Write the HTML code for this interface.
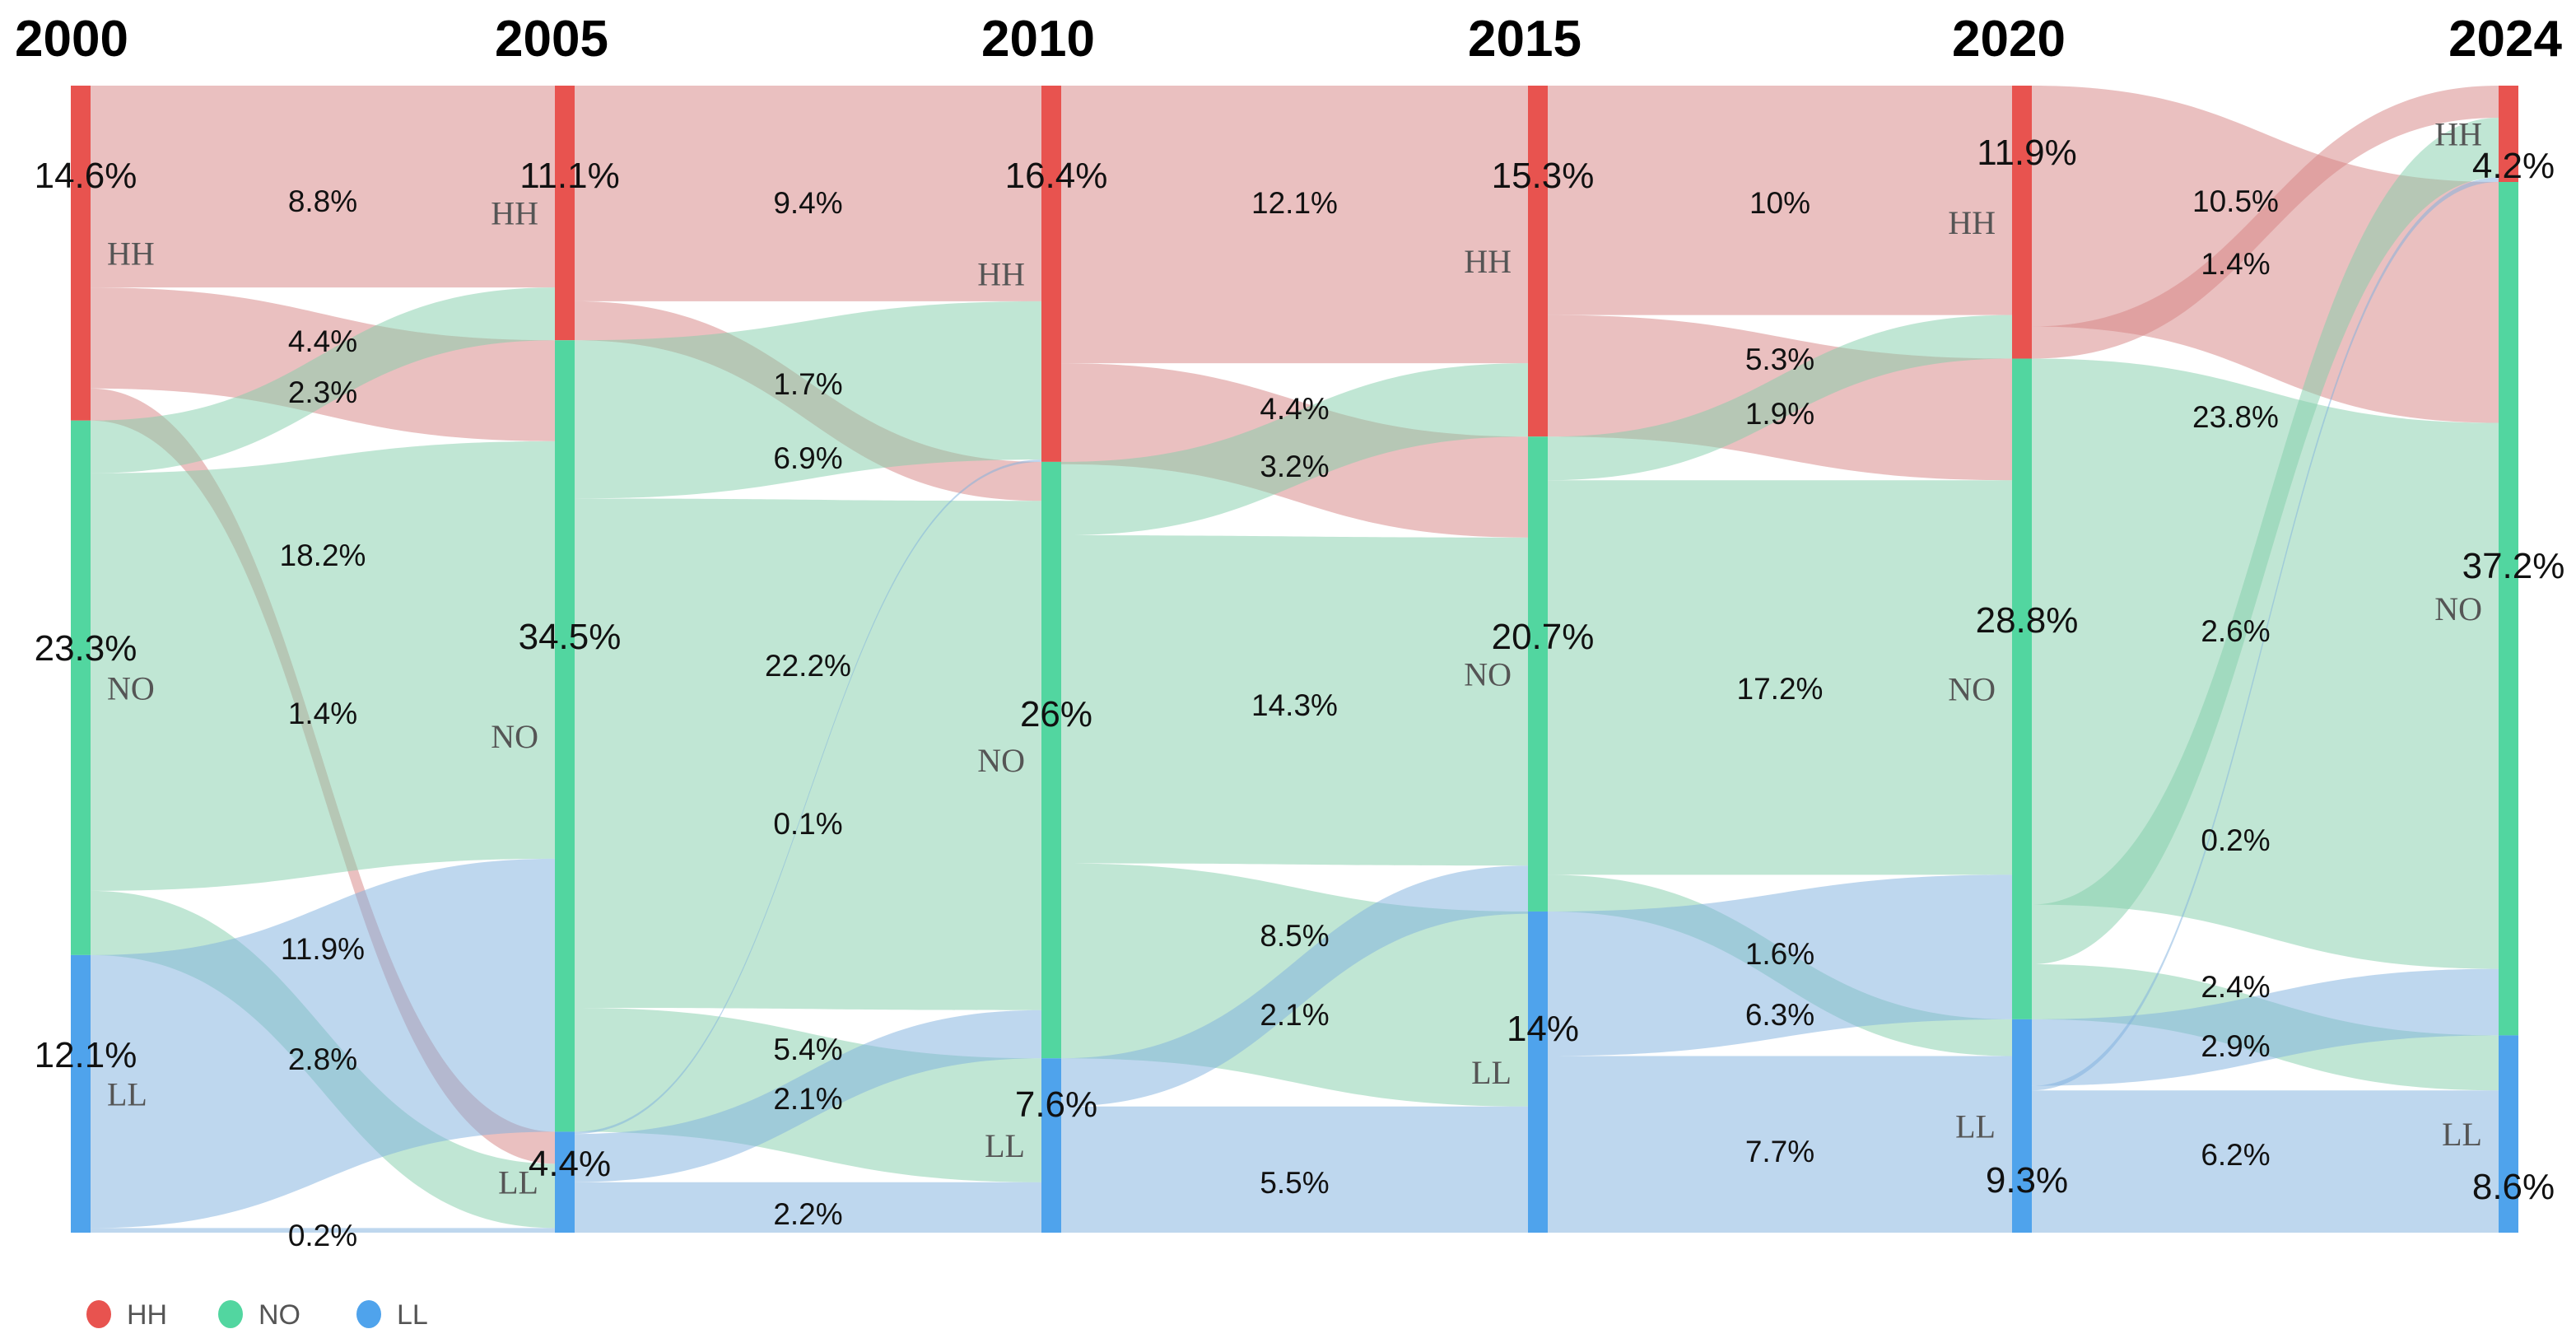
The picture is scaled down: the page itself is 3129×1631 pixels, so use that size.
<!DOCTYPE html>
<html><head><meta charset="utf-8"><style>
html,body{margin:0;padding:0;background:#fff;}
svg{display:block;font-family:"Liberation Sans",sans-serif;}
</style></head><body>
<svg id="chart" width="3129" height="1631" viewBox="0 0 3129 1631">
<g id="links"></g>
<g id="nodes"></g>
<g id="labels"></g>
<g id="legend"></g>
</svg>
<script>
const years = [2000, 2005, 2010, 2015, 2020, 2024];
const categories = ["HH", "NO", "LL"];
const hhValues = [14.6, 11.1, 16.4, 15.3, 11.9, 4.2];
const noValues = [23.3, 34.5, 26, 20.7, 28.8, 37.2];
const llValues = [12.1, 4.4, 7.6, 14, 9.3, 8.6];
// links: stage index (from year i to i+1), source category, target category, value
const linkStage  = [0,0,0,0,0,0,0,0, 1,1,1,1,1,1,1,1, 2,2,2,2,2,2,2, 3,3,3,3,3,3,3, 4,4,4,4,4,4,4,4];
const linkSource = [0,0,0,1,1,1,2,2, 0,0,1,1,1,2,2,2, 0,0,1,1,1,2,2, 0,0,1,1,1,2,2, 0,0,1,1,1,2,2,2];
const linkTarget = [0,1,2,0,1,2,1,2, 0,1,0,1,2,0,1,2, 0,1,0,1,2,1,2, 0,1,0,1,2,1,2, 1,0,1,0,2,1,0,2];
const linkValue  = [8.8,4.4,1.4,2.3,18.2,2.8,11.9,0.2, 9.4,1.7,6.9,22.2,5.4,0.1,2.1,2.2, 12.1,4.4,3.2,14.3,8.5,2.1,5.5, 10,5.3,1.9,17.2,1.6,6.3,7.7, 10.5,1.4,23.8,2.6,2.4,2.9,0.2,6.2];

// layout (not data): label placement per link, in screen px
const linkLabelY = [244,414,866,476,674,1286,1152,1500, 246,466,556,808,1274,1000,1334,1474, 246,496,566,856,1136,1232,1436, 246,436,502,836,1158,1232,1398, 244,320,506,766,1198,1270,1020,1402];
const colors = ["#e8534f", "#52d6a0", "#4fa3ec"];
const linkColors = ["#d58181", "#81cda9", "#7dafdd"];
const colX = [98, 686, 1277, 1868, 2456, 3047];
const nodeW = 24, topY = 104, bottomY = 1497;
const pctLabelY = [[212,786,1280],[212,772,1412],[212,866,1340],[212,772,1248],[184,752,1432],[200,686,1440]];
const NS = "http://www.w3.org/2000/svg";
const values = [hhValues, noValues, llValues];
const k = (bottomY - topY) / 50;
function el(tag, attrs, parent){const e=document.createElementNS(NS,tag);for(const a in attrs)e.setAttribute(a,attrs[a]);parent.appendChild(e);return e;}

const nodeY0 = [], nodeY1 = [];
years.forEach((y,i)=>{
  nodeY0[i]=[];nodeY1[i]=[];
  let cy = topY;
  for(let c=0;c<3;c++){nodeY0[i][c]=cy;cy+=values[c][i]*k;nodeY1[i][c]=cy;}
});

const gL=document.getElementById('links');
const srcOff={}, tgtOff={};
const order = linkValue.map((v,i)=>i);
const tgtOrder = order.slice().sort((a,b)=>linkStage[a]-linkStage[b]||linkTarget[a]-linkTarget[b]||linkSource[a]-linkSource[b]||a-b);
const sy={}, ty={};
order.forEach(i=>{const key=linkStage[i]+"-"+linkSource[i];const o=srcOff[key]||0;const w=linkValue[i]*k;sy[i]=nodeY0[linkStage[i]][linkSource[i]]+o;srcOff[key]=o+w;});
tgtOrder.forEach(i=>{const key=(linkStage[i]+1)+"-"+linkTarget[i];const o=tgtOff[key]||0;const w=linkValue[i]*k;ty[i]=nodeY0[linkStage[i]+1][linkTarget[i]]+o;tgtOff[key]=o+w;});
const gT=document.getElementById('labels');
order.forEach(i=>{
  const s=linkStage[i];
  const x0=colX[s]+nodeW/2, x1=colX[s+1]-nodeW/2, xm=(x0+x1)/2;
  const w=Math.max(linkValue[i]*k,2);
  const a=sy[i], b=ty[i];
  const d=`M${x0},${a} C${xm},${a} ${xm},${b} ${x1},${b} L${x1},${b+w} C${xm},${b+w} ${xm},${a+w} ${x0},${a+w} Z`;
  const p=el('path',{d:d,fill:linkColors[linkSource[i]],'fill-opacity':0.5},gL);
  
  
  const lx = s===4 ? xm-36 : xm;
  const ly = linkLabelY[i]!==undefined ? linkLabelY[i] : (a+b+w)/2;
  const t=el('text',{x:lx,y:ly+13,'text-anchor':'middle','font-size':37,fill:'#111'},gT);
  t.textContent=linkValue[i]+'%';
  
  
});

const gN=document.getElementById('nodes');
years.forEach((y,i)=>{
  for(let c=0;c<3;c++){
    const r=el('rect',{x:colX[i]-nodeW/2,y:nodeY0[i][c],width:nodeW,height:nodeY1[i][c]-nodeY0[i][c],fill:colors[c]},gN);
    
    
    const cy=(nodeY0[i][c]+nodeY1[i][c])/2;
    const nm=el('text',{x:i===0?colX[i]+32:colX[i]-32,y:cy+14,'text-anchor':i===0?'start':'end','font-size':40,fill:'#555','font-family':'"Liberation Serif",serif'},gT);
    nm.textContent=categories[c];
    
    
    const pc=el('text',{x:colX[i]+6,y:pctLabelY[i][c]+16,'text-anchor':'middle','font-size':44,fill:'#111'},gT);
    pc.textContent=values[c][i]+'%';
    
    
  }
  const yt=el('text',{x:i===0?18:(i===years.length-1?3112:colX[i]-16),y:68,'text-anchor':i===0?'start':(i===years.length-1?'end':'middle'),'font-size':62,'font-weight':'bold',fill:'#000'},gT);
  yt.textContent=y;
  
  
});

const gLg=document.getElementById('legend');
const legX=[120,280,448];
categories.forEach((c,j)=>{
  const g=el('g',{},gLg);
  
  
  el('ellipse',{cx:legX[j],cy:1596,rx:15,ry:17,fill:colors[j]},g);
  const t=el('text',{x:legX[j]+34,y:1608,'font-size':34,fill:'#555'},g);
  t.textContent=c;
});
</script>
</body></html>
